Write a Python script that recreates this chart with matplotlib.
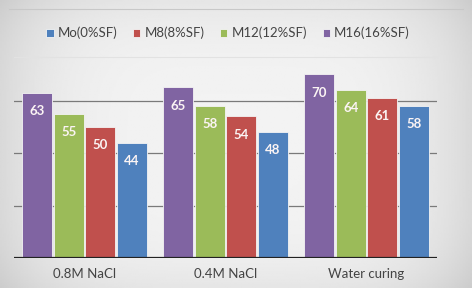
import numpy as np
import matplotlib.pyplot as plt

groups = ['0.8M NaCl', '0.4M NaCl', 'Water curing']
series = ['M16(16%SF)', 'M12(12%SF)', 'M8(8%SF)', 'Mo(0%SF)']
m16 = [63, 65, 70]
m12 = [55, 58, 64]
m8 = [50, 54, 61]
mo = [44, 48, 58]
values = [m16, m12, m8, mo]
colors = ['#8064A2', '#9BBB59', '#C0504D', '#4F81BD']
legend_order = ['Mo(0%SF)', 'M8(8%SF)', 'M12(12%SF)', 'M16(16%SF)']

plt.rcParams['font.family'] = ['Lato', 'DejaVu Sans']

fig = plt.figure(figsize=(4.72, 2.88), dpi=100)

# grey gradient background, lighter towards the middle
bg = fig.add_axes([0, 0, 1, 1], zorder=-10)
yy, xx = np.mgrid[-1:1:200j, -1:1:300j]
shade = 0.95 - 0.10 * (np.abs(xx) ** 4) - 0.05 * (np.abs(yy) ** 4)
bg.imshow(shade, cmap='gray', vmin=0, vmax=1, aspect='auto', extent=[0, 1, 0, 1])
bg.plot([0.02, 0.98], [0.97, 0.97], color='#c8c8c8', lw=0.8)
bg.plot([0.03, 0.925], [1 - 57 / 288] * 2, color='#e2e2e2', lw=0.8)
bg.set_xlim(0, 1)
bg.set_ylim(0, 1)
bg.axis('off')

ax = fig.add_axes([14 / 472, 30 / 288, 423 / 472, 210 / 288])
ax.patch.set_alpha(0)

x = np.arange(len(groups))
w = 30 / 141
for i, (name, vals, c) in enumerate(zip(series, values, colors)):
    pos = x + (i - 1.5) * (w + 1.5 / 141)
    bars = ax.bar(pos, vals, width=w, color=c, edgecolor='#f4f4f4', linewidth=0.6,
                  label=name, zorder=3)
    for b, v in zip(bars, vals):
        ax.text(b.get_x() + b.get_width() / 2, v - 7, str(v), ha='center', va='center',
                color='#fbf4f4', fontsize=9.5, fontweight='bold', zorder=4)

for g in [20, 40, 60]:
    ax.axhline(g, color='#7a7a7a', lw=0.9, zorder=1)
ax.axhline(0, color='#222222', lw=1.6, zorder=5)

ax.set_xlim(-0.5, 2.5)
ax.set_ylim(0, 80)
ax.set_yticks([])
ax.set_xticks(x)
ax.set_xticklabels(groups, fontsize=9.5, color='#444444')
ax.tick_params(axis='x', length=0, pad=7)
for s in ax.spines.values():
    s.set_visible(False)

handles, labels = ax.get_legend_handles_labels()
hmap = dict(zip(labels, handles))
fig.legend([hmap[k] for k in legend_order], legend_order, loc='center',
           bbox_to_anchor=(0.483, 0.885), ncol=4, frameon=False, fontsize=9.5,
           handlelength=0.55, handleheight=0.55, handletextpad=0.3, columnspacing=1.2,
           labelcolor='#444444')

fig.savefig('out.png', dpi=100)
